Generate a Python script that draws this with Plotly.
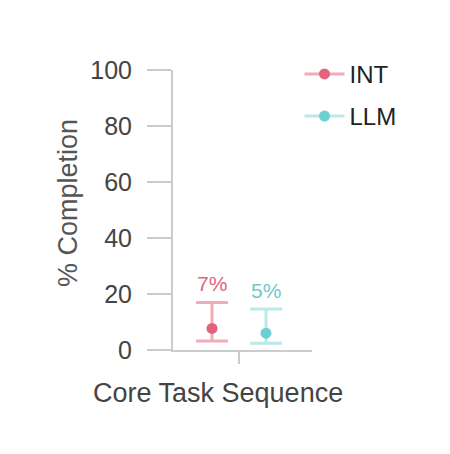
import plotly.graph_objects as go

category = "Core Task Sequence"
y_title = "% Completion"
series = ["INT", "LLM"]
means = [7.7, 6.0]
upper = [17.0, 14.6]
lower = [3.2, 2.4]
labels = ["7%", "5%"]
y_ticks = [0, 20, 40, 60, 80, 100]

dot_colors = ["#e3637c", "#6dcfd3"]
pale_colors = ["#f2abb8", "#bde8e8"]
label_colors = ["#d9687f", "#6ec9cd"]
offsets = [-0.27, 0.27]

fig = go.Figure()
for i, name in enumerate(series):
    fig.add_trace(go.Scatter(
        x=[offsets[i]], y=[means[i]], name=name, mode="lines+markers",
        legendgroup=name,
        marker=dict(color=dot_colors[i], size=11),
        line=dict(color=pale_colors[i], width=3),
        error_y=dict(type="data", symmetric=False,
                     array=[upper[i] - means[i]], arrayminus=[means[i] - lower[i]],
                     color=pale_colors[i], thickness=3, width=16),
    ))
    fig.add_annotation(x=offsets[i], y=upper[i], text=labels[i], showarrow=False,
                       yanchor="bottom", yshift=5,
                       font=dict(size=21, color=label_colors[i]))

# axis titles
fig.add_annotation(xref="paper", yref="paper", x=0.327, y=0, yshift=-43,
                   xanchor="center", yanchor="middle", showarrow=False,
                   text=category, font=dict(size=27, color="#444444"))
fig.add_annotation(xref="paper", yref="paper", x=0, xshift=-105, y=0.525,
                   xanchor="center", yanchor="middle", showarrow=False, textangle=-90,
                   text=y_title, font=dict(size=27, color="#555555"))

axis_color = "#cccccc"
fig.update_layout(
    width=450, height=454,
    margin=dict(l=165, r=146, t=62, b=112),
    paper_bgcolor="white", plot_bgcolor="white",
    font=dict(family="Liberation Sans, Arial, sans-serif", color="#444444"),
    showlegend=True,
    legend=dict(x=0.91, xanchor="left", y=1.065, yanchor="top",
                font=dict(size=24, color="#222222"), tracegroupgap=8,
                itemwidth=40, bgcolor="rgba(0,0,0,0)"),
    xaxis=dict(range=[-0.66, 0.73], tickvals=[0], ticktext=[""],
               showline=True, linecolor=axis_color, linewidth=2,
               ticks="outside", ticklen=12, tickcolor=axis_color, tickwidth=2,
               showgrid=False, zeroline=False),
    yaxis=dict(range=[0, 100], tickvals=y_ticks,
               showline=True, linecolor=axis_color, linewidth=2,
               ticks="outside", ticklen=24, tickcolor=axis_color, tickwidth=2,
               showgrid=False, zeroline=False,
               tickfont=dict(size=25, color="#444444"), ticklabelstandoff=10),
)

fig.write_html("out.html")
